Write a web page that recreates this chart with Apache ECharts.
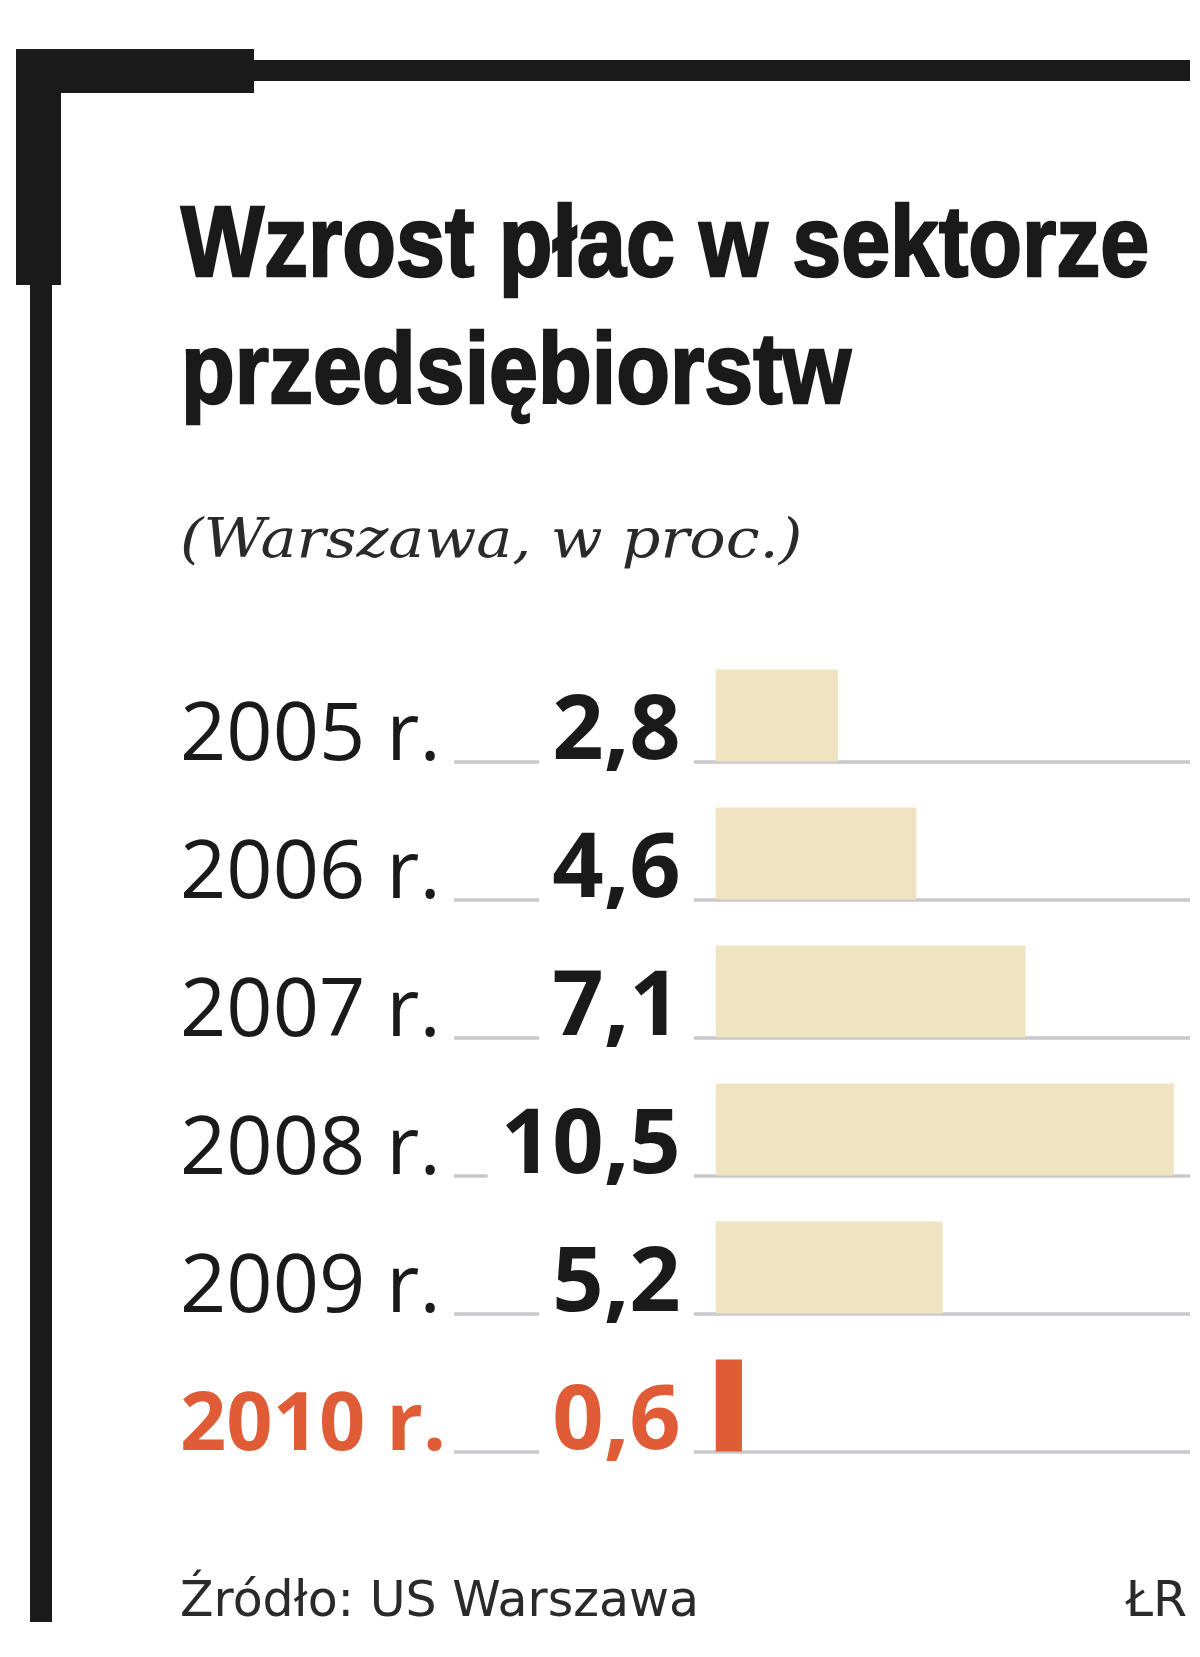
<!DOCTYPE html>
<html>
<head>
<meta charset="utf-8">
<script src="https://cdn.jsdelivr.net/npm/echarts@6/dist/echarts.min.js"></script>
<style>
html,body{margin:0;padding:0;background:#fff;}
#chart{width:1200px;height:1657px;}
</style>
</head>
<body>
<div id="chart"></div>
<script>
// ---- data ----
var categories = ['2005 r.', '2006 r.', '2007 r.', '2008 r.', '2009 r.', '2010 r.'];
var values = [2.8, 4.6, 7.1, 10.5, 5.2, 0.6];
var valueLabels = ['2,8', '4,6', '7,1', '10,5', '5,2', '0,6'];
var highlightIndex = 5;
var titleLines = ['Wzrost płac w sektorze', 'przedsiębiorstw'];
var subtitleText = '(Warszawa, w proc.)';
var sourceText = 'Źródło: US Warszawa';
var authorText = 'ŁR';

// ---- styles ----
var BEIGE = '#f0e3c1';
var ORANGE = '#e05c37';
var INK = '#1a1a1a';
var GRID_LINE = '#c9c9cd';
var TITLE_FONT = "bold 100px 'Liberation Sans', Arial, sans-serif";

var chart = echarts.init(document.getElementById('chart'), null, {renderer: 'canvas'});

var barData = values.map(function (v, i) {
  var hl = i === highlightIndex;
  return {
    value: v,
    itemStyle: {color: hl ? ORANGE : BEIGE},
    label: {color: hl ? ORANGE : INK}
  };
});
var spacerData = values.map(function () { return 0; });

var titleGraphics = titleLines.map(function (line, i) {
  return {
    type: 'text',
    x: 181, y: 248 + i * 127,
    scaleX: 0.88, scaleY: 1,
    style: {
      text: line, font: TITLE_FONT, fill: INK,
      stroke: INK, lineWidth: 2.5,
      align: 'left', verticalAlign: 'middle'
    }
  };
});

var option = {
  backgroundColor: '#ffffff',
  animation: false,
  title: [
    {
      text: sourceText,
      left: 180, top: 1579,
      padding: 0,
      textStyle: {fontFamily: "'DejaVu Sans', sans-serif", fontWeight: 'normal', fontSize: 49, lineHeight: 48, color: '#2a2a2a'}
    },
    {
      text: authorText,
      right: 13, top: 1579,
      padding: 0,
      textStyle: {fontFamily: "'DejaVu Sans', sans-serif", fontWeight: 'normal', fontSize: 49, lineHeight: 48, color: '#2a2a2a'}
    }
  ],
  graphic: [
    {type: 'rect', shape: {x: 16, y: 49, width: 238, height: 44}, style: {fill: INK}},
    {type: 'rect', shape: {x: 254, y: 60, width: 936, height: 21}, style: {fill: INK}},
    {type: 'rect', shape: {x: 16, y: 49, width: 45, height: 236}, style: {fill: INK}},
    {type: 'rect', shape: {x: 30, y: 285, width: 22, height: 1337}, style: {fill: INK}},
    {
      type: 'text', x: 180, y: 543,
      scaleX: 1.12, scaleY: 1,
      style: {
        text: subtitleText, font: "italic 54px 'DejaVu Serif', serif", fill: '#2a2a2a',
        align: 'left', verticalAlign: 'middle'
      }
    }
  ].concat(titleGraphics),
  grid: {left: 454, right: 10, top: 623.5, height: 828, containLabel: false},
  xAxis: {
    type: 'value', min: -6, max: 10.87, show: false
  },
  yAxis: {
    type: 'category',
    data: categories,
    inverse: true,
    axisLine: {show: false},
    axisTick: {show: false},
    splitLine: {
      show: true,
      lineStyle: {
        width: 3.5,
        color: ['rgba(0,0,0,0)', GRID_LINE, GRID_LINE, GRID_LINE, GRID_LINE, GRID_LINE, GRID_LINE]
      }
    },
    axisLabel: {
      align: 'left',
      margin: 274,
      padding: [88, 0, 0, 0],
      formatter: function (val, idx) {
        return idx === highlightIndex ? '{h|' + val + '}' : '{n|' + val + '}';
      },
      rich: {
        n: {fontFamily: "'Open Sans', sans-serif", fontSize: 81, color: INK, fontWeight: 'normal'},
        h: {fontFamily: "'Open Sans', sans-serif", fontSize: 81, color: ORANGE, fontWeight: 'bold'}
      }
    }
  },
  series: [
    {
      type: 'bar',
      name: 'spacer',
      data: spacerData,
      barWidth: 46,
      barGap: '0%',
      silent: true,
      itemStyle: {color: 'rgba(0,0,0,0)'},
      label: {show: false}
    },
    {
      type: 'bar',
      name: 'Wzrost płac',
      data: barData,
      barWidth: 92,
      barGap: '0%',
      label: {
        show: true,
        position: 'left',
        distance: 22,
        offset: [0, 18],
        formatter: function (p) { return valueLabels[p.dataIndex]; },
        fontFamily: "'Open Sans', sans-serif",
        fontWeight: 'bold',
        fontSize: 90,
        backgroundColor: '#ffffff',
        padding: [0, 13, 0, 13]
      }
    }
  ]
};
chart.setOption(option);
</script>
</body>
</html>
